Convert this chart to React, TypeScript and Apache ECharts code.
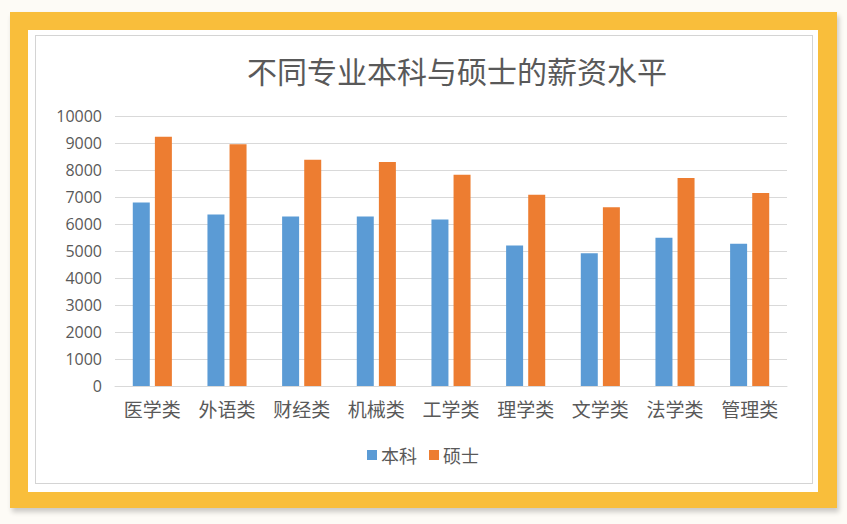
import { useRef, useEffect } from "react"
import * as echarts from "echarts"

const categories = ["医学类", "外语类", "财经类", "机械类", "工学类", "理学类", "文学类", "法学类", "管理类"]
const bachelor = [6800, 6350, 6280, 6280, 6170, 5200, 4920, 5490, 5270]
const master = [9230, 8950, 8380, 8300, 7820, 7080, 6620, 7700, 7150]
const seriesNames = ["本科", "硕士"]
const yTicks = { min: 0, max: 10000, interval: 1000 }

const textColor = "#595959"
const font = "'Noto Sans CJK SC', 'Noto Sans', sans-serif"

export default function App() {
  const chartRef = useRef<HTMLDivElement>(null)

  useEffect(() => {
    if (!chartRef.current) return
    const instance = echarts.init(chartRef.current, undefined, { renderer: "svg" })

    instance.setOption({
      animation: false,
      textStyle: { fontFamily: font },
      title: {
        text: "不同专业本科与硕士的薪资水平",
        left: 452,
        top: 50,
        textAlign: "center",
        textStyle: { fontSize: 30, fontWeight: "normal", color: textColor, fontFamily: font },
      },
      legend: {
        left: 362,
        top: 441,
        icon: "rect",
        itemWidth: 10,
        itemHeight: 10,
        itemGap: 12,
        textStyle: { fontSize: 18, color: textColor, fontFamily: font, padding: [0, 0, 0, -1] },
        data: seriesNames,
      },
      grid: { left: 115, right: 60, top: 116, bottom: 138 },
      xAxis: {
        type: "category",
        data: categories,
        axisTick: { show: false },
        axisLine: { lineStyle: { color: "#d9d9d9" } },
        axisLabel: { fontSize: 19, color: textColor, margin: 13, fontFamily: font },
      },
      yAxis: {
        type: "value",
        min: yTicks.min,
        max: yTicks.max,
        interval: yTicks.interval,
        axisLine: { show: false },
        axisTick: { show: false },
        axisLabel: {
          fontSize: 16,
          color: textColor,
          margin: 13,
          fontFamily: "'Open Sans', sans-serif",
          formatter: (v: number) => String(v),
        },
        splitLine: { lineStyle: { color: "#d9d9d9" } },
      },
      series: [
        {
          name: seriesNames[0],
          type: "bar",
          data: bachelor,
          barWidth: 17,
          barGap: "30%",
          itemStyle: { color: "#5b9bd5" },
        },
        {
          name: seriesNames[1],
          type: "bar",
          data: master,
          barWidth: 17,
          itemStyle: { color: "#ed7d31" },
        },
      ],
    })

    return () => {
      instance.dispose()
    }
  }, [])

  return (
    <div style={{ position: "fixed", left: 0, top: 0, width: 847, height: 524, background: "#fdfbf6" }}>
      <div
        style={{
          position: "absolute",
          left: 10,
          top: 12,
          width: 827,
          height: 496,
          background: "#f9be3b",
          boxShadow: "2px 4px 5px rgba(0,0,0,0.2)",
        }}
      />
      <div style={{ position: "absolute", left: 28, top: 30, width: 790, height: 462, background: "#ffffff" }} />
      <div
        style={{
          position: "absolute",
          left: 35,
          top: 35,
          width: 776,
          height: 447,
          background: "#ffffff",
          border: "1px solid #d4d4d4",
        }}
      />
      <div ref={chartRef} style={{ position: "absolute", left: 0, top: 0, width: 847, height: 524 }} />
    </div>
  )
}
